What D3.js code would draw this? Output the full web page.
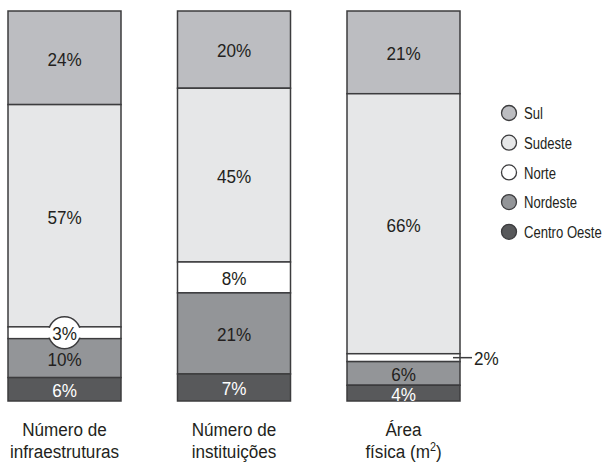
<!DOCTYPE html>
<html><head><meta charset="utf-8">
<script src="https://cdn.jsdelivr.net/npm/d3@7"></script>
<style>
body{margin:0;background:#fff;}
text{font-family:"Liberation Sans",Arial,sans-serif;fill:#231f20;}
</style></head>
<body><svg id="c" width="602" height="462"></svg>
<script>
const categories = ["Número de|infraestruturas", "Número de|instituições", "Área|física (m²)"];
const series = ["Sul", "Sudeste", "Norte", "Nordeste", "Centro Oeste"];
const sul = [24, 20, 21];
const sudeste = [57, 45, 66];
const norte = [3, 8, 2];
const nordeste = [10, 21, 6];
const centroOeste = [6, 7, 4];
const colors = ["#bcbdc1", "#e6e7e8", "#ffffff", "#939598", "#58595b"];
const textColors = ["#231f20", "#231f20", "#231f20", "#231f20", "#ffffff"];

const values = [sul, sudeste, norte, nordeste, centroOeste];
const svg = d3.select("#c");
const stroke = "#3c3c3e";

// condensed text helper: real text, horizontally compressed
function ctext(parent, px, py, str, size, sx, anchor) {
  const g = parent.append("g").attr("transform", `translate(${px},${py}) scale(${sx},1)`);
  return g.append("text").attr("x", 0).attr("y", 0).attr("dy", "0.36em")
    .attr("text-anchor", anchor || "middle").attr("font-size", size).text(str);
}

const x = d3.scaleBand().domain(categories).range([8, 460]).paddingInner(1/3).paddingOuter(0);
const y = d3.scaleLinear().domain([0, 1]).range([11, 401]);

categories.forEach((cat, ci) => {
  const vals = values.map(s => s[ci]);
  const total = d3.sum(vals);
  let cum = 0;
  const segs = vals.map((v, si) => {
    const s = {si, v, y0: cum / total, y1: (cum + v) / total};
    cum += v;
    return s;
  });
  const g = svg.append("g");
  const bx = x(cat), bw = x.bandwidth();
  g.selectAll("rect").data(segs).join("rect")
    .attr("x", bx).attr("width", bw)
    .attr("y", d => y(d.y0)).attr("height", d => y(d.y1) - y(d.y0))
    .attr("fill", d => colors[d.si]).attr("stroke", stroke).attr("stroke-width", 1.5);

  segs.forEach(d => {
    const cy = (y(d.y0) + y(d.y1)) / 2;
    const h = y(d.y1) - y(d.y0);
    if (h < 14) {
      if (ci === 0) {
        const cx = bx + bw / 2;
        g.append("circle").attr("cx", cx).attr("cy", cy).attr("r", 16)
          .attr("fill", "#fff").attr("stroke", stroke).attr("stroke-width", 1.5);
        g.append("rect").attr("x", bx + 1).attr("width", bw - 2)
          .attr("y", y(d.y0) + 1).attr("height", h - 2).attr("fill", "#fff");
        ctext(g, cx, cy + 0.5, d.v + "%", 19, 0.9);
      } else {
        g.append("line").attr("x1", bx + bw - 7).attr("x2", bx + bw + 12)
          .attr("y1", cy).attr("y2", cy).attr("stroke", stroke).attr("stroke-width", 1.5);
        ctext(g, bx + bw + 14, cy + 0.5, d.v + "%", 19, 0.9, "start");
      }
    } else {
      ctext(g, bx + bw / 2, cy + 1, d.v + "%", 19, 0.9).style("fill", textColors[d.si]);
    }
  });

  const lines = cat.split("|");
  const lgp = g.append("g").attr("transform", `translate(${bx + bw / 2},0) scale(0.9,1)`);
  const t = lgp.append("text").attr("text-anchor", "middle").attr("font-size", 19);
  lines.forEach((ln, i) => {
    const ts = t.append("tspan").attr("x", 0).attr("y", 436 + i * 22.5);
    if (ln.includes("²")) {
      ts.text(ln.replace("²)", ""));
      ts.append("tspan").attr("font-size", 12).attr("dy", -7).text("2");
      ts.append("tspan").attr("dy", 7).text(")");
    } else ts.text(ln);
  });
});

// legend
const lg = svg.append("g");
series.forEach((s, i) => {
  const ly = 113 + i * 29.7;
  lg.append("circle").attr("cx", 509).attr("cy", ly).attr("r", 7.5)
    .attr("fill", colors[i]).attr("stroke", stroke).attr("stroke-width", 1.3);
  ctext(lg, 524, ly, s, 17, 0.77, "start");
});
</script></body></html>
